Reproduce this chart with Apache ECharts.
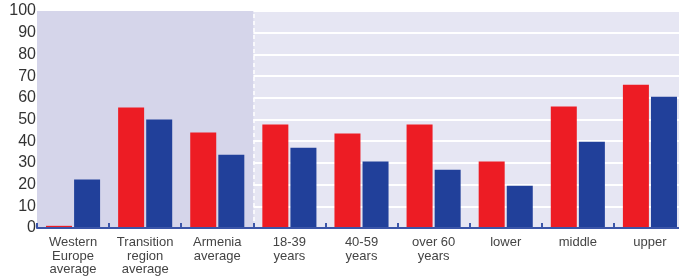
<!DOCTYPE html>
<html>
<head>
<meta charset="utf-8">
<script src="https://cdn.jsdelivr.net/npm/echarts@6/dist/echarts.min.js"></script>
<style>html,body{margin:0;padding:0;background:#fff}#c{width:679px;height:277px}</style>
</head>
<body>
<div id="c"></div>
<script>
var categories = ["Western\nEurope\naverage", "Transition\nregion\naverage", "Armenia\naverage", "18-39\nyears", "40-59\nyears", "over 60\nyears", "lower", "middle", "upper"];
var redValues = [1, 55.5, 44, 47.7, 43.6, 47.7, 30.6, 56, 66];
var blueValues = [22.3, 50, 33.8, 37, 30.7, 26.9, 19.5, 39.8, 60.5];
var yTicks = [0, 10, 20, 30, 40, 50, 60, 70, 80, 90, 100];
var shadedGroups = 3;

var chart = echarts.init(document.getElementById('c'), null, {renderer: 'canvas'});
var font = '"Liberation Sans", Arial, sans-serif';
chart.setOption({
  animation: false,
  grid: {left: 37, top: 11, bottom: 49, right: -7, outerBoundsMode: 'none', containLabel: false, show: true, backgroundColor: '#e6e6f3', borderWidth: 0},
  xAxis: [{
    type: 'category',
    data: categories,
    axisLine: {lineStyle: {color: '#3b55a8', width: 2}},
    axisTick: {show: true, inside: true, length: 5, lineStyle: {color: '#3b55a8', width: 2}},
    axisLabel: {color: '#444', fontFamily: font, fontSize: 13, lineHeight: 13.5, margin: 8, interval: 0},
    z: 5
  }, {
    type: 'value', min: 0, max: categories.length, show: false
  }],
  yAxis: {
    type: 'value', min: 0, max: 100, interval: 10,
    axisLine: {show: false}, axisTick: {show: false},
    splitLine: {lineStyle: {color: '#ffffff', width: 2}},
    axisLabel: {color: '#333', fontFamily: font, fontSize: 16, margin: 1,
      formatter: function (v) { return yTicks.indexOf(v) >= 0 ? String(v) : ''; }}
  },
  series: [{
    type: 'bar', data: redValues, barWidth: 26, barGap: '8%',
    itemStyle: {color: '#ed1c24'}, z: 3
  }, {
    type: 'bar', data: blueValues, barWidth: 26,
    itemStyle: {color: '#21409a'}, z: 3
  }, {
    type: 'line', xAxisIndex: 1, data: [], silent: true,
    markArea: {silent: true, itemStyle: {color: '#d5d5ea'}, data: [[{xAxis: 0}, {xAxis: shadedGroups}]]},
    markLine: {silent: true, symbol: 'none', label: {show: false},
      lineStyle: {color: '#ffffff', type: [4, 3], width: 1.5},
      data: [{xAxis: shadedGroups}]},
    z: 1
  }]
});
</script>
</body>
</html>
